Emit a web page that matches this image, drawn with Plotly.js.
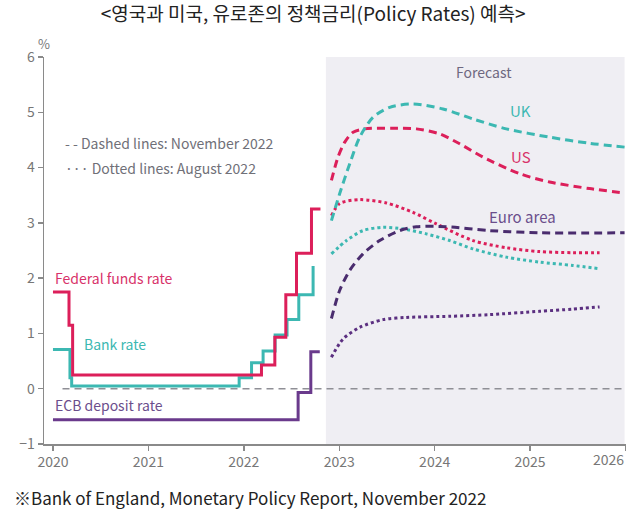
<!DOCTYPE html>
<html>
<head>
<meta charset="utf-8">
<script src="https://cdn.plot.ly/plotly-3.0.1.min.js"></script>
<style>html,body{margin:0;padding:0;background:#fff;}#chart{width:630px;height:511px;}</style>
</head>
<body>
<div id="chart"></div>
<script>
// ---- Data (years as decimals, values in %) ----
const ffrX = [2020.0, 2020.168, 2020.206, 2022.185, 2022.325, 2022.44, 2022.552, 2022.709, 2022.803];
const ffrY = [1.75, 1.15, 0.25, 0.43, 0.93, 1.70, 2.45, 3.25, 3.25];

const bankX = [2020.0, 2020.178, 2020.196, 2021.951, 2022.081, 2022.202, 2022.328, 2022.453, 2022.576, 2022.726];
const bankY = [0.71, 0.20, 0.05, 0.20, 0.47, 0.68, 0.97, 1.25, 1.70, 2.22];

const ecbX = [2020.0, 2022.569, 2022.702, 2022.796];
const ecbY = [-0.56, -0.07, 0.67, 0.67];

const usNovX = [2022.918, 2022.987, 2023.058, 2023.145, 2023.267, 2023.55, 2023.808, 2024.052, 2024.262, 2024.506, 2024.890, 2025.204, 2025.623, 2025.99];
const usNovY = [3.77, 4.19, 4.46, 4.64, 4.70, 4.71, 4.70, 4.61, 4.43, 4.19, 3.89, 3.74, 3.62, 3.54];

const ukNovX = [2022.918, 2023.005, 2023.110, 2023.215, 2023.354, 2023.529, 2023.773, 2024.087, 2024.401, 2024.751, 2025.204, 2025.623, 2025.99];
const ukNovY = [3.04, 3.53, 4.07, 4.55, 4.91, 5.09, 5.15, 5.06, 4.88, 4.70, 4.55, 4.44, 4.37];

const usAugX = [2022.918, 2023.005, 2023.215, 2023.494, 2023.773, 2024.018, 2024.401, 2024.751, 2025.099, 2025.448, 2025.728];
const usAugY = [3.13, 3.35, 3.42, 3.36, 3.19, 2.98, 2.68, 2.55, 2.48, 2.46, 2.46];

const ukAugX = [2022.918, 2023.076, 2023.249, 2023.459, 2023.668, 2023.913, 2024.157, 2024.401, 2024.751, 2025.099, 2025.448, 2025.728];
const ukAugY = [2.44, 2.68, 2.86, 2.92, 2.89, 2.80, 2.68, 2.53, 2.38, 2.29, 2.23, 2.17];

const euNovX = [2022.918, 2023.005, 2023.110, 2023.249, 2023.424, 2023.634, 2023.808, 2024.122, 2024.576, 2025.099, 2025.99];
const euNovY = [1.27, 1.78, 2.14, 2.44, 2.68, 2.86, 2.93, 2.93, 2.86, 2.82, 2.82];

const euAugX = [2022.918, 2023.040, 2023.215, 2023.459, 2023.704, 2024.157, 2024.576, 2025.099, 2025.448, 2025.728];
const euAugY = [0.57, 0.90, 1.11, 1.25, 1.29, 1.31, 1.34, 1.40, 1.44, 1.48];

const xTicks = [2020, 2021, 2022, 2023, 2024, 2025, 2026];
const xTickText = ['2020', '2021', '2022', '2023', '2024', '2025', ''];
const lastXTickText = '2026';
const yTicks = [-1, 0, 1, 2, 3, 4, 5, 6];
const yTickText = ['\u22121', '0', '1', '2', '3', '4', '5', '6'];

const forecastStart = 2022.86;

// ---- Styles ----
const RED = '#dc1f5a', TEAL = '#3cb8b2', ECB = '#6a3a8c', EUN = '#4a2c6e', EUA = '#5b2f80';
const FONT = '"Noto Sans CJK KR", "Noto Sans", sans-serif';
const DASH = '8px,5px';

function step(x, y, c) {
  return {x: x, y: y, mode: 'lines', line: {color: c, width: 3, shape: 'hv'}, hoverinfo: 'skip'};
}
function curve(x, y, c, dash) {
  return {x: x, y: y, mode: 'lines', line: {color: c, width: 3, shape: 'spline', smoothing: 0.8, dash: dash}, hoverinfo: 'skip'};
}

const traces = [
  step(ecbX, ecbY, ECB),
  step(bankX, bankY, TEAL),
  step(ffrX, ffrY, RED),
  curve(euAugX, euAugY, EUA, 'dot'),
  curve(ukAugX, ukAugY, TEAL, 'dot'),
  curve(usAugX, usAugY, RED, 'dot'),
  curve(euNovX, euNovY, EUN, DASH),
  curve(usNovX, usNovY, RED, DASH),
  curve(ukNovX, ukNovY, TEAL, DASH)
];

function ann(text, x, y, color, xanchor, size) {
  return {text: text, x: x, y: y, xref: 'x', yref: 'y', showarrow: false,
    xanchor: xanchor || 'left', yanchor: 'middle', font: {family: FONT, size: size || 14, color: color}};
}

const layout = {
  width: 630, height: 511,
  margin: {l: 44, r: 4, t: 57, b: 67},
  paper_bgcolor: '#ffffff', plot_bgcolor: '#ffffff',
  showlegend: false,
  title: {text: '<영국과 미국, 유로존의 정책금리(Policy Rates) 예측>', x: 0.497, xref: 'container', xanchor: 'center',
    y: 0.972, yref: 'container', yanchor: 'middle', font: {family: FONT, size: 19, color: '#222222'}},
  xaxis: {range: [2019.906, 2026.005], tickmode: 'array', tickvals: xTicks, ticktext: xTickText,
    showgrid: false, zeroline: false, showline: true, linecolor: '#8a8a8a', linewidth: 1.5,
    ticks: 'outside', ticklen: 5, tickcolor: '#8a8a8a', tickwidth: 1.5,
    tickfont: {family: FONT, size: 14, color: '#777777'}, fixedrange: true},
  yaxis: {range: [-1, 6], tickmode: 'array', tickvals: yTicks, ticktext: yTickText,
    showgrid: false, zeroline: false, showline: true, linecolor: '#8a8a8a', linewidth: 1.5,
    ticks: 'outside', ticklen: 5, tickcolor: '#8a8a8a', tickwidth: 1.5,
    tickfont: {family: FONT, size: 14, color: '#777777'}, fixedrange: true},
  shapes: [
    {type: 'rect', xref: 'x', yref: 'y', x0: forecastStart, x1: 2025.99, y0: -1, y1: 6.02,
      fillcolor: '#efeef3', line: {width: 0}, layer: 'below'},
    {type: 'line', xref: 'x', yref: 'y', x0: 2020.1, x1: 2026, y0: 0, y1: 0,
      line: {color: '#8f8f96', width: 1.5, dash: '7px,5px'}, layer: 'below'}
  ],
  annotations: [
    ann('Forecast', 2024.513, 5.72, '#6e6880', 'center'),
    ann('UK', 2024.90, 5.03, TEAL, 'center', 15),
    ann('US', 2024.90, 4.20, '#d8326a', 'center', 15),
    ann('Euro area', 2024.92, 3.11, '#6b4e8c', 'center', 15),
    ann('Federal funds rate', 2020.0, 2.01, '#d8326a'),
    ann('Bank rate', 2020.307, 0.80, TEAL),
    ann('ECB deposit rate', 2020.0, -0.30, '#6b4e8c'),
    ann('- - Dashed lines: November 2022', 2020.107, 4.45, '#707078'),
    ann('\u00B7\u00B7\u00B7 Dotted lines: August 2022', 2020.107, 4.0, '#707078'),
    {text: lastXTickText, xref: 'paper', yref: 'paper', x: 1.0, y: -0.04, xanchor: 'right', yanchor: 'middle', showarrow: false,
      font: {family: FONT, size: 14, color: '#777777'}},
    {text: '%', xref: 'paper', yref: 'paper', x: 0, y: 1.036, xanchor: 'center', yanchor: 'middle', showarrow: false,
      font: {family: FONT, size: 13, color: '#777777'}},
    {text: '※Bank of England, Monetary Policy Report, November 2022', xref: 'paper', yref: 'paper',
      x: -0.055, y: -0.137, xanchor: 'left', yanchor: 'middle', showarrow: false,
      font: {family: FONT, size: 17, color: '#222222'}}
  ]
};

Plotly.newPlot('chart', traces, layout, {staticPlot: true, displayModeBar: false});
</script>
</body>
</html>
